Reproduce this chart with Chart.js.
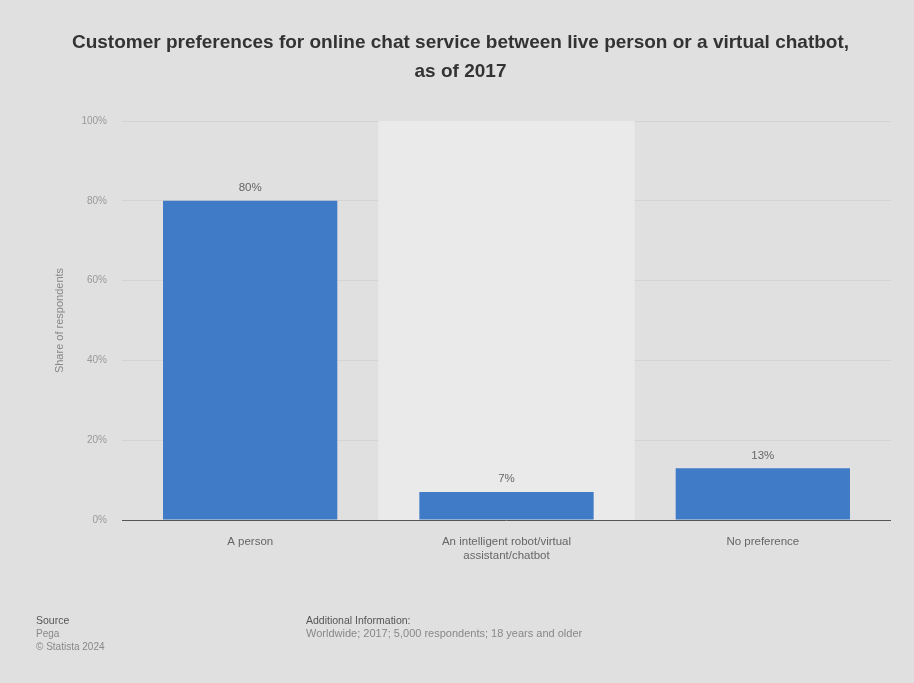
<!DOCTYPE html>
<html>
<head>
<meta charset="utf-8">
<script src="https://cdn.jsdelivr.net/npm/chart.js@4"></script>
<style>
  html, body { margin: 0; padding: 0; background: #e0e0e0; }
  #wrap { position: relative; width: 914px; height: 683px; }
  .foot { position: absolute; font-family: "Liberation Sans", Arial, sans-serif; font-size: 10px; color: #888; line-height: 13px; }
  .foot b { font-weight: normal; color: #555; font-size: 10.5px; }
  .foot .wide { font-size: 11px; }
</style>
</head>
<body>
<div id="wrap">
  <canvas id="myChart" width="914" height="683"></canvas>
  <div class="foot" style="left:36px; top:614px;"><b>Source</b><br>Pega<br>© Statista 2024</div>
  <div class="foot" style="left:306px; top:614px;"><b>Additional Information:</b><br><span class="wide">Worldwide; 2017; 5,000 respondents; 18 years and older</span></div>
</div>
<script>
var categories = [['A person'], ['An intelligent robot/virtual', 'assistant/chatbot'], ['No preference']];
var shares = [80, 7, 13];
var yTicks = [0, 20, 40, 60, 80, 100];

var bandPlugin = {
  id: 'band',
  beforeDatasetsDraw: function(chart) {
    var ctx = chart.ctx, area = chart.chartArea;
    var w = (area.right - area.left) / categories.length;
    ctx.save();
    ctx.fillStyle = '#eaeaea';
    ctx.fillRect(area.left + w, area.top, w, area.bottom - area.top);
    ctx.restore();
  }
};

var labelPlugin = {
  id: 'valueLabels',
  afterDatasetsDraw: function(chart) {
    var ctx = chart.ctx;
    var meta = chart.getDatasetMeta(0);
    ctx.save();
    ctx.font = '11.5px "Liberation Sans", Arial, sans-serif';
    ctx.fillStyle = '#666';
    ctx.textAlign = 'center';
    ctx.textBaseline = 'bottom';
    meta.data.forEach(function(bar, i) {
      ctx.fillText(shares[i] + '%', bar.x, bar.y - 7);
    });
    ctx.restore();
  }
};

var ctx = document.getElementById('myChart').getContext('2d');
var myChart = new Chart(ctx, {
  type: 'bar',
  data: {
    labels: categories,
    datasets: [{
      data: shares,
      backgroundColor: '#3f7bc6',
      borderWidth: 0,
      categoryPercentage: 0.68,
      barPercentage: 1.0
    }]
  },
  plugins: [bandPlugin, labelPlugin],
  options: {
    responsive: false,
    animation: false,
    layout: { padding: { left: 30, right: 23, top: 0, bottom: 113 } },
    scales: {
      y: {
        min: 0,
        max: 100,
        afterFit: function(axis) { axis.width = 92; },
        afterBuildTicks: function(axis) {
          axis.ticks = yTicks.map(function(v) { return { value: v }; });
        },
        ticks: {
          color: '#999',
          font: { size: 10, family: '"Liberation Sans", Arial, sans-serif' },
          padding: 15,
          callback: function(v) { return v + '%'; }
        },
        grid: {
          color: function(c) { return c.tick.value === 0 ? '#555' : '#d4d4d4'; },
          drawTicks: false
        },
        border: { display: false },
        title: {
          display: true,
          text: 'Share of respondents',
          color: '#888',
          font: { size: 11, family: '"Liberation Sans", Arial, sans-serif' },
          padding: { top: 23, bottom: 0 }
        }
      },
      x: {
        afterFit: function(axis) { axis.height = 50; },
        grid: { display: false },
        border: { display: false },
        ticks: {
          color: '#666',
          font: { size: 11.5, family: '"Liberation Sans", Arial, sans-serif' },
          padding: 7,
          maxRotation: 0
        }
      }
    },
    plugins: {
      legend: { display: false },
      tooltip: { enabled: false },
      title: {
        display: true,
        text: ['Customer preferences for online chat service between live person or a virtual chatbot,', 'as of 2017'],
        color: '#333',
        font: { size: 19, weight: 'bold', family: '"Liberation Sans", Arial, sans-serif', lineHeight: 1.5 },
        padding: { top: 29, bottom: 35 }
      }
    }
  }
});
</script>
</body>
</html>
